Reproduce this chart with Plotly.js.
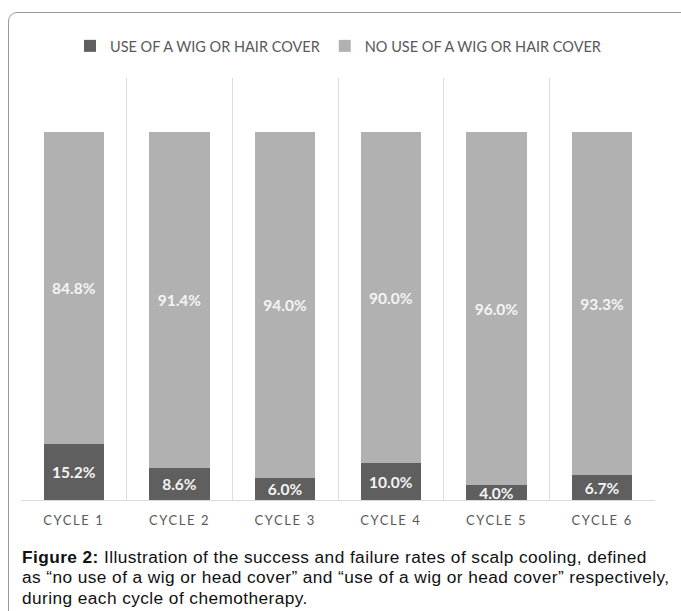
<!DOCTYPE html>
<html>
<head>
<meta charset="utf-8">
<script src="https://cdn.plot.ly/plotly-3.0.1.min.js"></script>
<style>
  html, body { margin: 0; padding: 0; background: #ffffff; }
  #wrap { position: relative; width: 681px; height: 611px; overflow: hidden; }
  #frame { position: absolute; left: 8px; top: 12px; width: 720px; height: 660px;
           border: 1.3px solid #9a9a9a; border-top-left-radius: 9px; box-sizing: border-box; }
  #chart { position: absolute; left: 0; top: 0; width: 681px; height: 611px; }
  .xtick text { letter-spacing: 1.6px; }
  .annotation-text { letter-spacing: 0.42px; }
</style>
</head>
<body>
<div id="wrap">
  <div id="frame"></div>
  <div id="chart"></div>
</div>
<script>
const categories = ["CYCLE 1", "CYCLE 2", "CYCLE 3", "CYCLE 4", "CYCLE 5", "CYCLE 6"];
const useWig = [15.2, 8.6, 6.0, 10.0, 4.0, 6.7];
const noUseWig = [84.8, 91.4, 94.0, 90.0, 96.0, 93.3];
const seriesNames = ["USE OF A WIG OR HAIR COVER", "NO USE OF A WIG OR HAIR COVER"];
const captionLines = [
  "<b>Figure 2:</b> Illustration of the success and failure rates of scalp cooling, defined",
  "as “no use of a wig or head cover” and “use of a wig or head cover” respectively,",
  "during each cycle of chemotherapy."
];
const captionY = [-0.1351, -0.1836, -0.2322];

const labelFont = { family: "Lato, 'Open Sans', sans-serif", size: 15.5, color: "#f4f4f4", weight: 700 };

const traces = [
  {
    type: "bar", name: seriesNames[0], x: categories, y: useWig,
    marker: { color: "#5f5f5f" },
    texttemplate: "<b>%{y:.1f}%</b>", textposition: "inside", insidetextanchor: "middle",
    textangle: 0, textfont: labelFont, cliponaxis: false, hoverinfo: "skip"
  },
  {
    type: "bar", name: seriesNames[1], x: categories, y: noUseWig,
    marker: { color: "#b1b1b1" },
    texttemplate: "<b>%{y:.1f}%</b>", textposition: "inside", insidetextanchor: "middle",
    textangle: 0, textfont: labelFont, cliponaxis: false, hoverinfo: "skip"
  }
];

const annotations = captionLines.map((t, i) => ({
  xref: "paper", yref: "paper", x: -0.0016, y: captionY[i], xanchor: "left", yanchor: "middle",
  align: "left", showarrow: false, text: t,
  font: { family: "'Liberation Sans', Arial, sans-serif", size: 17.3, color: "#111111" }
}));

const layout = {
  width: 681, height: 611,
  margin: { l: 21, r: 26, t: 78, b: 111 },
  paper_bgcolor: "rgba(0,0,0,0)", plot_bgcolor: "rgba(0,0,0,0)",
  barmode: "stack", bargap: 0.43,
  showlegend: true,
  uniformtext: { mode: "show", minsize: 15.5 },
  legend: {
    orientation: "h", x: 0.5, xanchor: "center", y: 1.076, yanchor: "middle",
    traceorder: "normal", itemwidth: 30,
    font: { family: "Lato, 'Open Sans', sans-serif", size: 14.5, color: "#595959" }
  },
  xaxis: {
    type: "category", tickson: "boundaries", showgrid: true, gridcolor: "#dcdcdc", gridwidth: 1,
    showline: true, linecolor: "#d9d9d9", linewidth: 1, ticks: "", ticklabelstandoff: 8,
    tickfont: { family: "Lato, 'Open Sans', sans-serif", size: 13, color: "#595959" },
    fixedrange: true
  },
  yaxis: {
    range: [0, 114.7], showgrid: false, zeroline: false, showticklabels: false, ticks: "",
    showline: false, fixedrange: true
  },
  annotations: annotations
};

Plotly.newPlot("chart", traces, layout, { displayModeBar: false, staticPlot: true });
</script>
</body>
</html>
